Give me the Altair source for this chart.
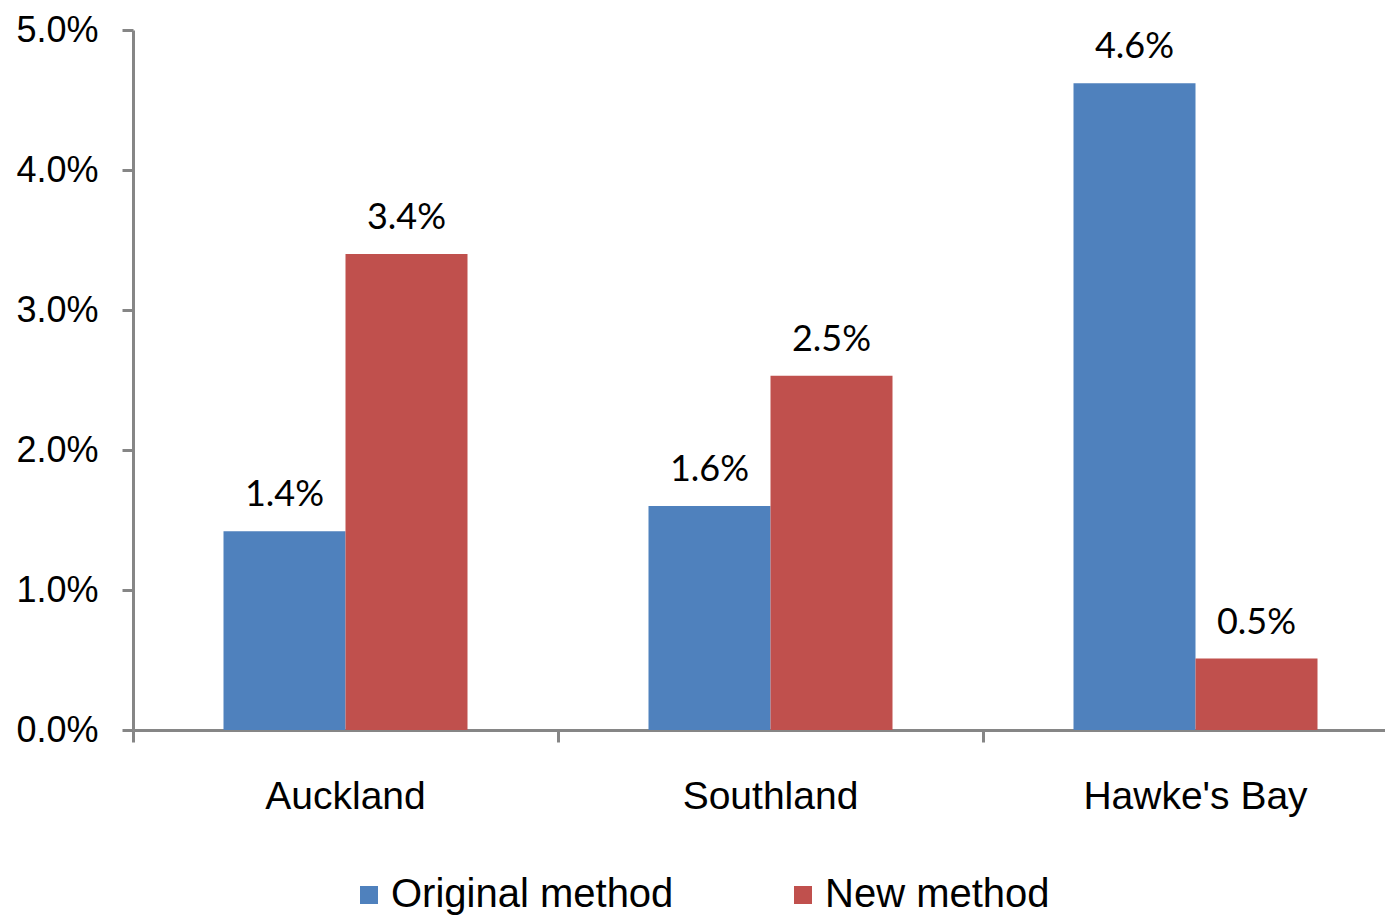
import altair as alt
import pandas as pd

regions = ["Auckland", "Southland", "Hawke's Bay"]
methods = ["Original method", "New method"]
original = [0.0142, 0.0160, 0.0462]
new = [0.0340, 0.0253, 0.0051]
colors = ["#4F81BD", "#C0504D"]
y_ticks = [0.0, 0.01, 0.02, 0.03, 0.04, 0.05]

rows = []
for i, r in enumerate(regions):
    rows.append({"region": r, "method": methods[0], "value": original[i]})
    rows.append({"region": r, "method": methods[1], "value": new[i]})
df = pd.DataFrame(rows)

AX = "#868686"

x_enc = alt.X(
    "region:N", sort=regions,
    scale=alt.Scale(range=[0, 1275], paddingInner=0, paddingOuter=0),
    axis=alt.Axis(title=None, labelAngle=0, bandPosition=0,
                  ticks=True, tickSize=12, tickWidth=3, tickColor=AX,
                  domainColor=AX, domainWidth=3, grid=False,
                  labelFont="Liberation Sans", labelFontSize=39, labelColor="black",
                  labelPadding=35, labelLimit=0),
)
xoff = alt.XOffset("method:N", sort=methods,
                   scale=alt.Scale(paddingOuter=0.7418, paddingInner=0))
y_enc = alt.Y(
    "value:Q",
    scale=alt.Scale(domain=[0, 0.05], nice=False),
    axis=alt.Axis(title=None, format=".1%", values=y_ticks, grid=False,
                  tickSize=11, tickWidth=3, tickColor=AX, domainColor=AX, domainWidth=3,
                  labelFont="Liberation Sans", labelFontSize=36, labelColor="black",
                  labelPadding=24),
)

bars = alt.Chart(df).mark_bar().encode(
    x=x_enc, xOffset=xoff, y=y_enc,
    color=alt.Color("method:N", sort=methods,
                    scale=alt.Scale(domain=methods, range=colors),
                    legend=alt.Legend(title=None, orient="none", legendX=216, legendY=845,
                                      direction="horizontal", symbolType="square",
                                      symbolSize=324, symbolStrokeWidth=0,
                                      labelFont="Liberation Sans", labelFontSize=40,
                                      labelColor="black", labelLimit=0,
                                      columnPadding=109, labelOffset=2, padding=0)),
)

labels = alt.Chart(df).mark_text(font="Lato", fontSize=36, baseline="alphabetic",
                                 dy=-25, color="black").encode(
    x=x_enc, xOffset=xoff, y=y_enc,
    text=alt.Text("value:Q", format=".1%"),
)

chart = alt.layer(bars, labels).properties(
    width=1252, height=700,
    autosize=alt.AutoSizeParams(type="none"),
    padding={"left": 125, "top": 22, "right": 0, "bottom": 190},
).configure_view(stroke=None)

chart.save("out.html", embed_options={"renderer": "svg", "actions": False})
